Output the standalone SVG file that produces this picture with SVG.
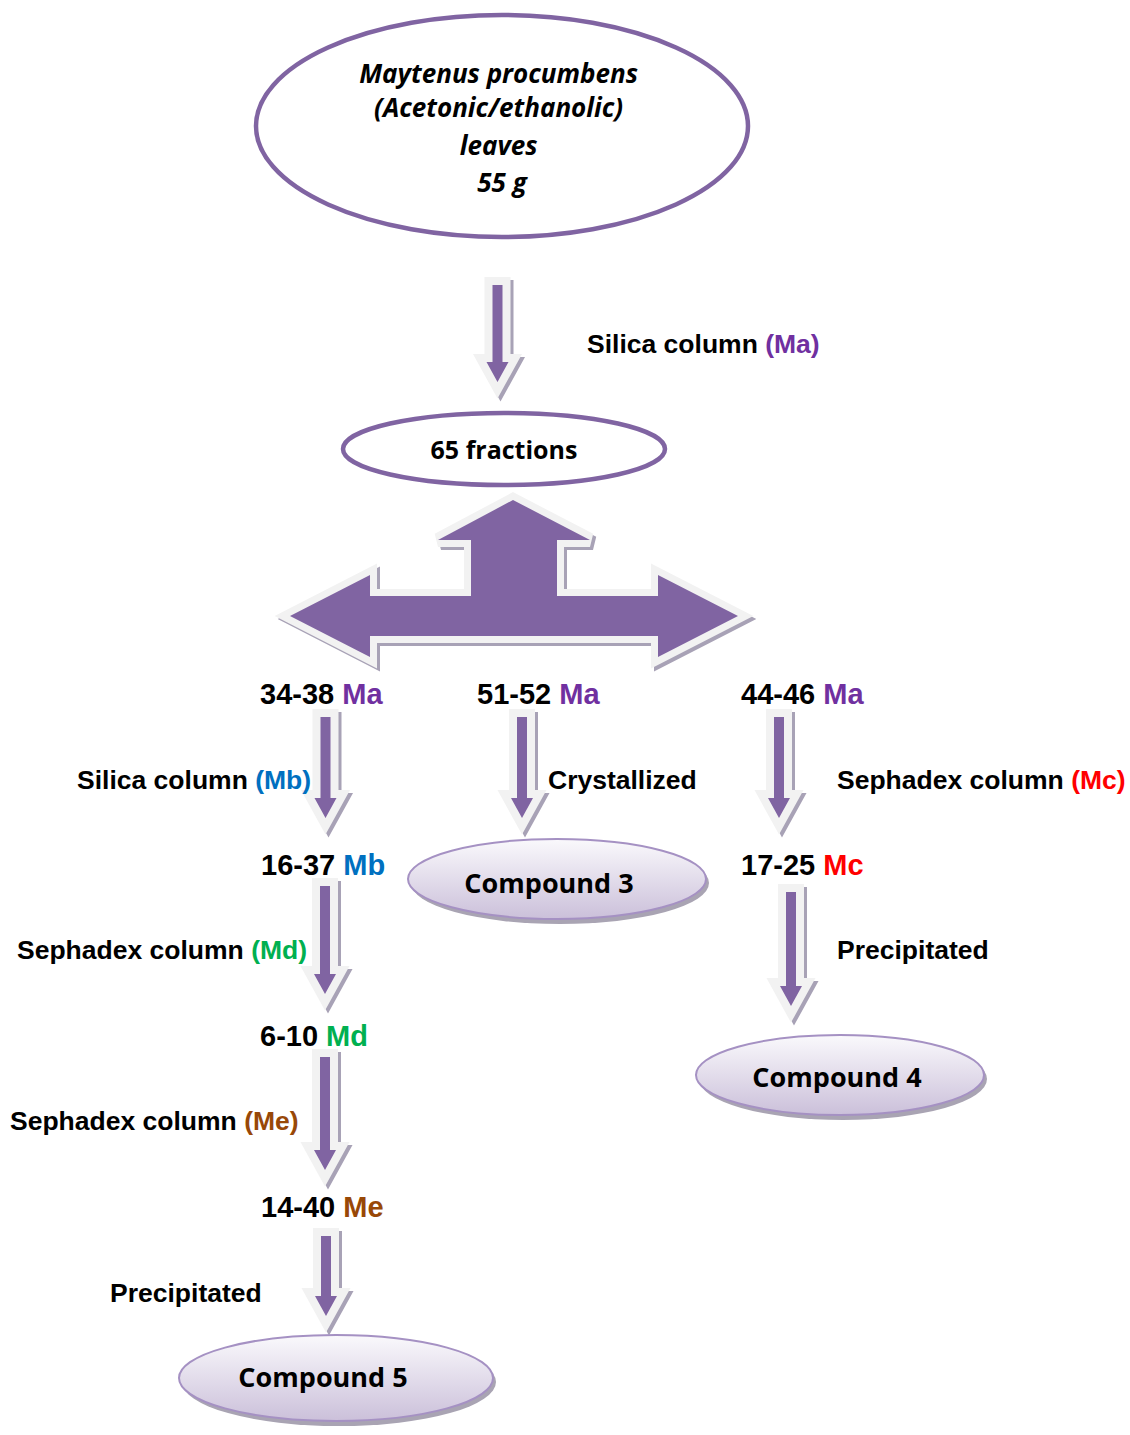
<svg xmlns="http://www.w3.org/2000/svg" xmlns:xlink="http://www.w3.org/1999/xlink" width="1130" height="1435" viewBox="0 0 1130 1435">
<style>
.outline{fill:#fff;stroke:#8064A2;stroke-width:4.5}
.cmp{fill:url(#cg);stroke:#A591C3;stroke-width:2}
.cmpsh{fill:#A9A4B3}
.shadow{fill:#A8A2B6;stroke:#A8A2B6;stroke-width:16;stroke-linejoin:miter}
.arrow{fill:#8064A2;stroke:#F2F2F2;stroke-width:16;stroke-linejoin:miter;paint-order:stroke}
.big{stroke-width:14}
.cal{font-family:"Open Sans","Noto Sans",sans-serif;font-weight:700;fill:#000}
.ari{font-family:"Liberation Sans",Arial,sans-serif;font-weight:700;fill:#000}
.lbl{font-size:26.5px}
.num{font-size:29px}
.ma{fill:#7030A0}.mb{fill:#0070C0}.mc{fill:#FF0000}.md{fill:#00B050}.me{fill:#984807}
</style>
<defs>
<linearGradient id="cg" x1="0" y1="0" x2="0" y2="1">
<stop offset="0" stop-color="#FAF9FC"/>
<stop offset="1" stop-color="#CBC0DA"/>
</linearGradient>
<path id="a1" d="M492.5,285 H502.5 V362 H508.5 L497.5,382 L486.5,362 H492.5 Z"/>
<path id="a2" d="M320.5,717 H330.5 V798 H336.5 L325.5,818 L314.5,798 H320.5 Z"/>
<path id="a3" d="M517,717 H527 V798 H533 L522,818 L511,798 H517 Z"/>
<path id="a4" d="M774,717 H784 V798 H790 L779,818 L768,798 H774 Z"/>
<path id="a5" d="M320,886 H330 V974 H336 L325,994 L314,974 H320 Z"/>
<path id="a6" d="M320,1057 H330 V1150 H336 L325,1170 L314,1150 H320 Z"/>
<path id="a7" d="M321,1236 H331 V1296 H337 L326,1316 L315,1296 H321 Z"/>
<path id="a8" d="M786,892 H796 V986 H802 L791,1006 L780,986 H786 Z"/>
<path id="tri" d="M513,500 L590,540 L557,540 L557,596 L658,596 L658,575 L738,616 L658,657 L658,636 L370,636 L370,657 L290,616 L370,575 L370,596 L471,596 L471,540 L438,540 Z"/>
</defs>

<g id="connectors">
<use xlink:href="#a1" class="shadow" transform="translate(3,3)"/><use xlink:href="#a1" class="arrow"/>
<use xlink:href="#tri" class="shadow big" transform="translate(3,3)"/><use xlink:href="#tri" class="arrow big"/>
<use xlink:href="#a2" class="shadow" transform="translate(3,3)"/><use xlink:href="#a2" class="arrow"/>
<use xlink:href="#a3" class="shadow" transform="translate(3,3)"/><use xlink:href="#a3" class="arrow"/>
<use xlink:href="#a4" class="shadow" transform="translate(3,3)"/><use xlink:href="#a4" class="arrow"/>
<use xlink:href="#a5" class="shadow" transform="translate(3,3)"/><use xlink:href="#a5" class="arrow"/>
<use xlink:href="#a6" class="shadow" transform="translate(3,3)"/><use xlink:href="#a6" class="arrow"/>
<use xlink:href="#a7" class="shadow" transform="translate(3,3)"/><use xlink:href="#a7" class="arrow"/>
<use xlink:href="#a8" class="shadow" transform="translate(3,3)"/><use xlink:href="#a8" class="arrow"/>
</g>

<g id="edge-labels">
<text class="ari lbl" x="587" y="353">Silica column <tspan class="ma">(Ma)</tspan></text>
<text class="ari lbl" x="77" y="789">Silica column <tspan class="mb">(Mb)</tspan></text>
<text class="ari lbl" x="548" y="789">Crystallized</text>
<text class="ari lbl" x="837" y="789">Sephadex column <tspan class="mc">(Mc)</tspan></text>
<text class="ari lbl" x="17" y="959">Sephadex column <tspan class="md">(Md)</tspan></text>
<text class="ari lbl" x="837" y="959">Precipitated</text>
<text class="ari lbl" x="10" y="1130">Sephadex column <tspan class="me">(Me)</tspan></text>
<text class="ari lbl" x="110" y="1302">Precipitated</text>
</g>

<g id="n-source">
<ellipse class="outline" cx="502" cy="126" rx="246" ry="111"/>
<text class="cal" font-style="italic" font-size="26" text-anchor="middle">
<tspan x="502" y="83">Maytenus procumbens</tspan>
<tspan x="502" y="117">(Acetonic/ethanolic)</tspan>
<tspan x="502" y="155">leaves</tspan>
<tspan x="502" y="192">55 g</tspan>
</text>
</g>

<g id="n-fractions">
<ellipse class="outline" cx="504" cy="449" rx="161" ry="36"/>
<text class="cal" font-size="25" x="504" y="459" text-anchor="middle">65 fractions</text>
</g>

<g id="n-f3438"><text class="ari num" x="260" y="704">34-38 <tspan class="ma">Ma</tspan></text></g>
<g id="n-f5152"><text class="ari num" x="477" y="704">51-52 <tspan class="ma">Ma</tspan></text></g>
<g id="n-f4446"><text class="ari num" x="741" y="704">44-46 <tspan class="ma">Ma</tspan></text></g>
<g id="n-f1637"><text class="ari num" x="261" y="875">16-37 <tspan class="mb">Mb</tspan></text></g>
<g id="n-f1725"><text class="ari num" x="741" y="875">17-25 <tspan class="mc">Mc</tspan></text></g>
<g id="n-f610"><text class="ari num" x="260" y="1046">6-10 <tspan class="md">Md</tspan></text></g>
<g id="n-f1440"><text class="ari num" x="261" y="1217">14-40 <tspan class="me">Me</tspan></text></g>

<g id="n-compound3">
<ellipse class="cmpsh" cx="560" cy="883" rx="149" ry="41"/>
<ellipse class="cmp" cx="557" cy="879" rx="149" ry="40"/>
<text class="cal" font-size="27" x="549" y="893" text-anchor="middle">Compound 3</text>
</g>
<g id="n-compound4">
<ellipse class="cmpsh" cx="843" cy="1079" rx="144" ry="41"/>
<ellipse class="cmp" cx="840" cy="1075" rx="144" ry="40"/>
<text class="cal" font-size="27" x="837" y="1087" text-anchor="middle">Compound 4</text>
</g>
<g id="n-compound5">
<ellipse class="cmpsh" cx="339" cy="1382" rx="157" ry="44"/>
<ellipse class="cmp" cx="336" cy="1378" rx="157" ry="43"/>
<text class="cal" font-size="27" x="323" y="1387" text-anchor="middle">Compound 5</text>
</g>
</svg>
